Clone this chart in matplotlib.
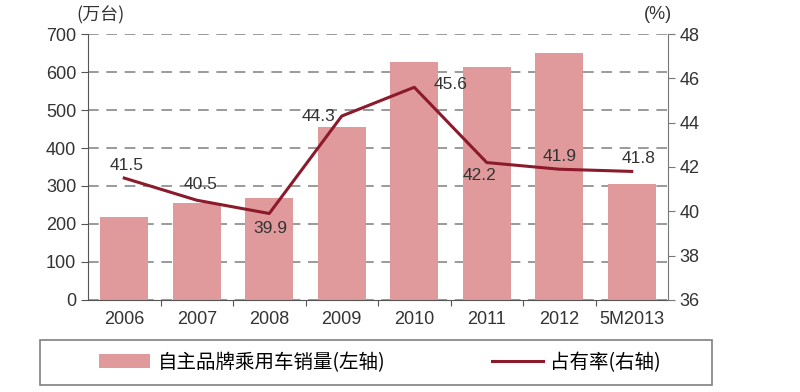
import matplotlib.pyplot as plt
from matplotlib.patches import Rectangle

plt.rcParams['font.family'] = ['Liberation Sans', 'Noto Sans CJK SC', 'DejaVu Sans']

years = ['2006', '2007', '2008', '2009', '2010', '2011', '2012', '5M2013']
sales = [218, 254, 268, 456, 627, 614, 649, 304]
share = [41.5, 40.5, 39.9, 44.3, 45.6, 42.2, 41.9, 41.8]
# label offsets in points (dx, dy)
offsets = [(2, 9), (3, 11), (1, -11), (-17, 0), (26, 2), (-5, -9), (0, 9), (5, 9)]

bar_color = '#e09a9c'
line_color = '#8b1a2b'
text_color = '#333333'
cjk = ['Noto Sans CJK SC', 'DejaVu Sans']

fig = plt.figure(figsize=(8, 3.92), dpi=100)
ax = fig.add_axes([0.11, 0.235, 0.725, 0.678])
x = range(len(years))

ax.bar(x, sales, width=0.66, color=bar_color, zorder=2, label='自主品牌乘用车销量(左轴)')
ax.set_ylim(0, 700)
ax.set_xlim(-0.5, len(years) - 0.5)
ax.set_yticks(range(0, 701, 100))
ax.yaxis.grid(True, linestyle=(0, (7, 5)), color='#7f7f7f', linewidth=1.1, zorder=0)
ax.set_axisbelow(True)
ax.set_xticks([i - 0.5 for i in range(1, len(years))])
ax.set_xticks(list(x), minor=True)
ax.set_xticklabels([])
ax.set_xticklabels(years, minor=True)
ax.tick_params(axis='x', which='major', length=4, color='#555555')
ax.tick_params(axis='x', which='minor', length=0, labelsize=13, labelcolor=text_color, pad=8)
ax.tick_params(axis='y', length=5, color='#555555', labelsize=13, labelcolor=text_color)
ax.spines['top'].set_visible(False)
ax.spines['left'].set_color('#555555')
ax.spines['bottom'].set_color('#555555')
ax.spines['right'].set_visible(False)

ax2 = ax.twinx()
ax2.plot(list(x), share, color=line_color, linewidth=2.2, zorder=3, label='占有率(右轴)')
ax2.set_ylim(36, 48)
ax2.set_yticks(range(36, 49, 2))
ax2.tick_params(axis='y', length=5, color='#777777', labelsize=13, labelcolor=text_color)
for s in ['top', 'left', 'bottom']:
    ax2.spines[s].set_visible(False)
ax2.spines['right'].set_color('#777777')

for i, (v, off) in enumerate(zip(share, offsets)):
    ax2.annotate(f'{v}', (i, v), xytext=off, textcoords='offset points',
                 ha='center', va='center', fontsize=12.5, color=text_color)

fig.text(0.126, 0.962, '(万台)', ha='center', va='center', fontsize=13, color=text_color,
         family=cjk)
fig.text(0.822, 0.962, '(%)', ha='center', va='center', fontsize=13, color=text_color)

h1, l1 = ax.get_legend_handles_labels()
h2, l2 = ax2.get_legend_handles_labels()
fig.legend(h1 + h2, l1 + l2, loc='center', bbox_to_anchor=(0.475, 0.076), ncol=2,
           frameon=False, columnspacing=5.5, handlelength=2.6, handletextpad=0.4,
           prop={'family': cjk, 'size': 14})
fig.patches.append(Rectangle((0.05, 0.018), 0.84, 0.115, transform=fig.transFigure,
                             fill=False, edgecolor='#808080', linewidth=1.2))

fig.savefig('out.png', dpi=100)
